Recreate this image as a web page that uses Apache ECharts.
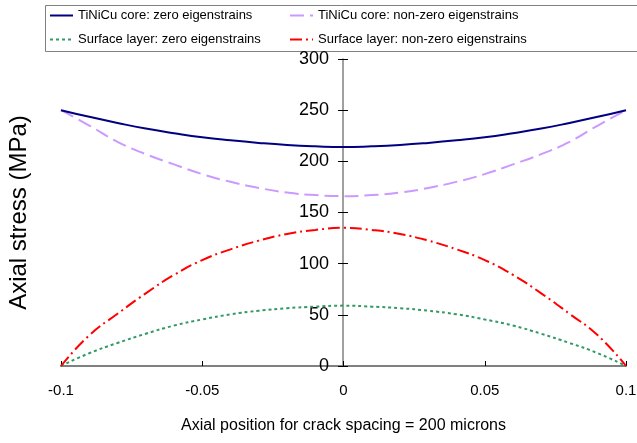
<!DOCTYPE html>
<html>
<head>
<meta charset="utf-8">
<script src="https://cdn.jsdelivr.net/npm/echarts@6/dist/echarts.min.js"></script>
<style>
  html, body { margin: 0; padding: 0; background: #fff; }
  #chart { width: 637px; height: 443px; }
</style>
</head>
<body>
<div id="chart"></div>
<script>
// axial position (crack spacing = 200 microns)
var positions = [-0.1, -0.09, -0.08, -0.07, -0.06, -0.05, -0.04, -0.03, -0.02, -0.01, 0,
  0.01, 0.02, 0.03, 0.04, 0.05, 0.06, 0.07, 0.08, 0.09, 0.1]

// axial stress (MPa)
var coreZero = [250, 243.5, 237.5, 232, 227.5, 223.5, 220.5, 218, 216, 214.7, 214,
  214.7, 216, 218, 220.5, 223.5, 227.5, 232, 237.5, 243.5, 250]
var coreNonZero = [250, 235, 219, 207, 197, 187.5, 180, 174, 169.5, 167, 166,
  167, 169.5, 174, 180, 187.5, 197, 207, 219, 235, 250]
var surfZero = [0, 12.5, 22.5, 31.5, 39.5, 45.5, 50.5, 54, 56.5, 58, 59,
  58, 56.5, 54, 50.5, 45.5, 39.5, 31.5, 22.5, 12.5, 0]
var surfNonZero = [0, 30, 51, 71, 89, 103.5, 114, 122.5, 129, 133, 135,
  133, 129, 122.5, 114, 103.5, 89, 71, 51, 30, 0]

var names = [
  'TiNiCu core: zero eigenstrains',
  'TiNiCu core: non-zero eigenstrains',
  'Surface layer: zero eigenstrains',
  'Surface layer: non-zero eigenstrains'
]

function pairs(ys) {
  return positions.map(function (x, i) { return [x, ys[i]] })
}

var font = "'Liberation Sans', Arial, sans-serif"

var chart = echarts.init(document.getElementById('chart'))

// common line series settings
function line(name, ys, color, dash) {
  return {
    name: name,
    type: 'line',
    data: pairs(ys),
    smooth: true,
    symbol: 'none',
    animation: false,
    silent: true,
    lineStyle: { color: color, width: 2, type: dash },
    itemStyle: { color: color }
  }
}

var legendCommon = {
  orient: 'vertical',
  top: 4,
  itemWidth: 23,
  itemHeight: 14,
  itemGap: 11,
  itemStyle: { opacity: 0 },
  textStyle: { fontFamily: font, fontSize: 13, color: '#000' }
}

var option = {
  backgroundColor: '#fff',
  graphic: [{
    type: 'rect',
    left: 43, top: 3,
    shape: { width: 610, height: 46 },
    style: { fill: 'none', stroke: '#808080', lineWidth: 1 },
    silent: true
  }],
  legend: [
    Object.assign({ left: 44, data: [names[0], names[2]] }, legendCommon),
    Object.assign({ left: 284, data: [names[1], names[3]] }, legendCommon)
  ],
  grid: { left: 61, right: 11, top: 59, bottom: 77, outerBoundsMode: 'none' },
  xAxis: {
    type: 'value',
    min: -0.1,
    max: 0.1,
    interval: 0.05,
    name: 'Axial position for crack spacing = 200 microns',
    nameLocation: 'middle',
    nameGap: 52,
    nameTextStyle: { fontFamily: font, fontSize: 16, color: '#000' },
    axisLine: { lineStyle: { color: '#808080', width: 2 } },
    axisTick: { inside: true, length: 5, lineStyle: { color: '#000' } },
    axisLabel: { fontFamily: font, fontSize: 15, color: '#000', margin: 17 },
    splitLine: { show: false }
  },
  yAxis: [{
    // axis sits at x = 0 (middle of the plot)
    type: 'value',
    position: 'left',
    offset: -282,
    min: 0,
    max: 300,
    interval: 50,
    name: 'Axial stress (MPa)',
    nameLocation: 'middle',
    nameGap: 312,
    nameTextStyle: { fontFamily: font, fontSize: 24, color: '#000' },
    axisLine: { onZero: false, lineStyle: { color: '#808080', width: 1.5 } },
    axisTick: { length: 5, lineStyle: { color: '#000' } },
    axisLabel: { fontFamily: font, fontSize: 18, color: '#000', margin: 14 },
    splitLine: { show: false }
  }, {
    // only the right half of the crossing ticks
    type: 'value',
    position: 'right',
    offset: -283,
    min: 0,
    max: 300,
    interval: 50,
    axisLine: { show: false, onZero: false },
    axisTick: { length: 5, lineStyle: { color: '#000' } },
    axisLabel: { show: false },
    splitLine: { show: false }
  }],
  series: [
    line(names[2], surfZero, '#339966', [3, 3]),
    line(names[3], surfNonZero, '#ff0000', [12, 4, 2, 4]),
    line(names[1], coreNonZero, '#cc99ff', [14, 6]),
    line(names[0], coreZero, '#000080', 'solid')
  ]
}
option && chart.setOption(option)
</script>
</body>
</html>
